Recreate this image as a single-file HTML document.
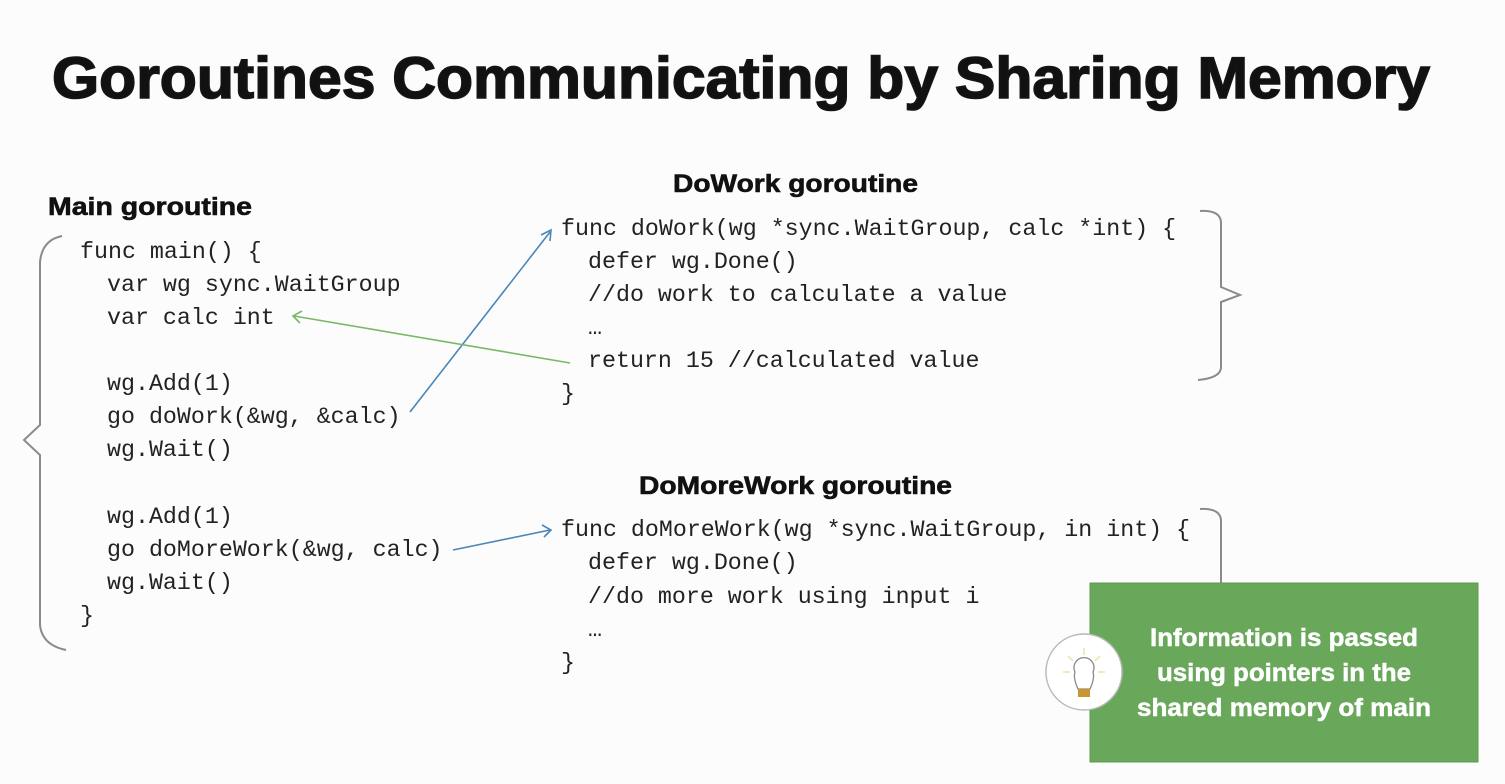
<!DOCTYPE html>
<html><head><meta charset="utf-8"><style>
html,body{margin:0;padding:0;background:#fcfcfc;}
svg{display:block}
.c{font-family:"Liberation Mono",monospace;font-size:23.3px;fill:#222;}
.h{font-family:"Liberation Sans",sans-serif;font-weight:bold;fill:#111;}
</style></head><body>
<svg width="1505" height="784" viewBox="0 0 1505 784" xmlns="http://www.w3.org/2000/svg">
<rect width="1505" height="784" fill="#fcfcfc"/>
<text class="h" x="52" y="98" font-size="58" textLength="1378" lengthAdjust="spacingAndGlyphs" fill="#151515" stroke="#151515" stroke-width="1.6">Goroutines Communicating by Sharing Memory</text>
<text class="h" x="48" y="215" font-size="25" textLength="204" lengthAdjust="spacingAndGlyphs" stroke="#111" stroke-width="0.6">Main goroutine</text>
<text class="h" x="673" y="192" font-size="25" textLength="245" lengthAdjust="spacingAndGlyphs" stroke="#111" stroke-width="0.6">DoWork goroutine</text>
<text class="h" x="639" y="494" font-size="25" textLength="313" lengthAdjust="spacingAndGlyphs" stroke="#111" stroke-width="0.6">DoMoreWork goroutine</text>

<g class="c">
<text x="80" y="258">func main() {</text>
<text x="107" y="291">var wg sync.WaitGroup</text>
<text x="107" y="324">var calc int</text>
<text x="107" y="390">wg.Add(1)</text>
<text x="107" y="423">go doWork(&amp;wg, &amp;calc)</text>
<text x="107" y="456">wg.Wait()</text>
<text x="107" y="523">wg.Add(1)</text>
<text x="107" y="556">go doMoreWork(&amp;wg, calc)</text>
<text x="107" y="589">wg.Wait()</text>
<text x="80" y="622">}</text>

<text x="561" y="235">func doWork(wg *sync.WaitGroup, calc *int) {</text>
<text x="588" y="268">defer wg.Done()</text>
<text x="588" y="301">//do work to calculate a value</text>
<text x="588" y="334">…</text>
<text x="588" y="367">return 15 //calculated value</text>
<text x="561" y="400">}</text>

<text x="561" y="536">func doMoreWork(wg *sync.WaitGroup, in int) {</text>
<text x="588" y="569">defer wg.Done()</text>
<text x="588" y="603">//do more work using input i</text>
<text x="588" y="636">…</text>
<text x="561" y="669">}</text>
</g>

<g fill="none" stroke="#8a8a8a" stroke-width="2">
<path d="M62,236 Q42,240 40,262 L40,425 L24,440 L40,455 L40,625 Q42,645 66,650"/>
<path d="M1200,211 Q1220,210 1221,222 L1221,287 L1240,295 L1221,302 L1221,368 Q1220,378 1198,380"/>
<path d="M1200,509 Q1220,508 1221,520 L1221,584"/>
</g>

<g stroke="#4a86b8" stroke-width="1.6" fill="none">
<line x1="410" y1="412" x2="550" y2="232"/>
<polyline points="541,235 551,230 550,241"/>
<line x1="453" y1="550" x2="550" y2="530"/>
<polyline points="542,525 551,530 544,537"/>
</g>
<g stroke="#78b868" stroke-width="1.6" fill="none">
<line x1="570" y1="363" x2="294" y2="316"/>
<polyline points="302,311 293,316 300,323"/>
</g>

<rect x="1090" y="583" width="388" height="179" fill="#69a75a" stroke="#5d9a50" stroke-width="1"/>
<g class="h" font-size="25" text-anchor="middle" style="fill:#fff" stroke="#fff" stroke-width="0.5">
<text x="1284" y="646" textLength="268" lengthAdjust="spacingAndGlyphs">Information is passed</text>
<text x="1284" y="681" textLength="254" lengthAdjust="spacingAndGlyphs">using pointers in the</text>
<text x="1284" y="716" textLength="294" lengthAdjust="spacingAndGlyphs">shared memory of main</text>
</g>
<circle cx="1084" cy="672" r="38" fill="#fff" stroke="#bbb" stroke-width="1.5"/>
<g stroke="#efe2a8" stroke-width="1.5">
<line x1="1084" y1="648" x2="1084" y2="655"/>
<line x1="1068" y1="656" x2="1073" y2="661"/>
<line x1="1100" y1="656" x2="1095" y2="661"/>
<line x1="1063" y1="672" x2="1070" y2="672"/>
<line x1="1098" y1="672" x2="1105" y2="672"/>
</g>
<path d="M1078,689 Q1073,678 1075,672 A10,10 0 1 1 1093,672 Q1095,678 1090,689 Z" fill="#fff" stroke="#888" stroke-width="1.3"/>
<rect x="1078" y="689" width="12" height="8" fill="#c9962f"/>
</svg>
</body></html>
